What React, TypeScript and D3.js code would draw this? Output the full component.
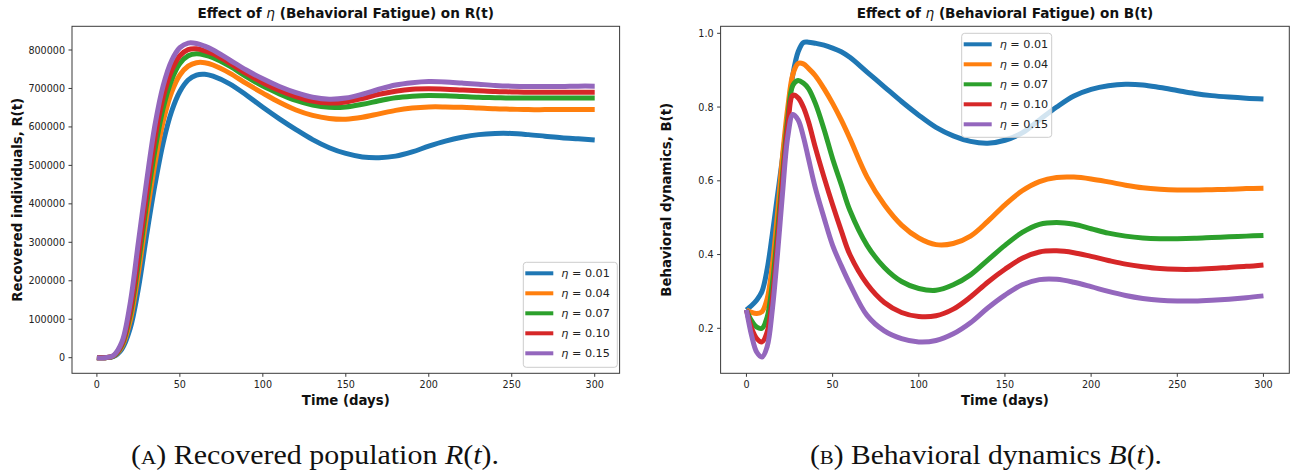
import React from 'react';
import * as d3 from 'd3';

// ---------- data ----------
const ETA_LABELS = ['0.01', '0.04', '0.07', '0.10', '0.15'];
const COLORS = ['#1f77b4', '#ff7f0e', '#2ca02c', '#d62728', '#9467bd'];
const X_TICKS = [0, 50, 100, 150, 200, 250, 300];
const R_TICKS = [0, 100000, 200000, 300000, 400000, 500000, 600000, 700000, 800000];
const B_TICKS = [0.2, 0.4, 0.6, 0.8, 1.0];

// Recovered individuals (thousands)
const tR = [0, 5, 10, 15, 20, 25, 30, 35, 40, 45, 50, 55, 60, 65, 70, 80, 90, 100, 110, 120, 130, 140, 150, 160, 170, 180, 190, 200, 210, 220, 230, 240, 250, 260, 270, 280, 290, 300];
const R_001 = [0, 0, 3, 22, 75, 180, 320, 450, 560, 640, 692, 722, 735, 737, 732, 712, 683, 651, 621, 593, 567, 546, 531, 522, 520, 524, 535, 550, 563, 573, 580, 583, 583, 580, 576, 572, 569, 566];
const R_004 = [0, 0, 4, 28, 95, 220, 370, 505, 615, 690, 735, 758, 767, 767, 761, 740, 713, 688, 664, 644, 630, 622, 620, 625, 634, 643, 649, 652, 652, 651, 649, 647, 646, 645, 645, 645, 645, 645];
const R_007 = [0, 0, 4, 32, 110, 245, 400, 540, 650, 722, 765, 785, 790, 787, 780, 758, 731, 706, 686, 669, 657, 651, 652, 659, 668, 676, 680, 682, 681, 679, 677, 676, 675, 675, 675, 675, 675, 675];
const R_010 = [0, 0, 5, 35, 120, 265, 425, 570, 678, 746, 785, 801, 803, 798, 790, 766, 739, 715, 695, 679, 667, 662, 665, 674, 685, 693, 698, 699, 698, 696, 694, 692, 691, 690, 690, 690, 690, 690];
const R_015 = [0, 0, 6, 40, 140, 300, 460, 605, 708, 772, 806, 818, 817, 810, 800, 774, 748, 725, 705, 689, 677, 672, 675, 685, 698, 709, 715, 718, 717, 714, 711, 708, 706, 705, 705, 705, 706, 706];
const R_UNIT = 1000;

// Behavioral dynamics
const tB = [0, 3, 6, 9, 12, 15, 18, 21, 24, 27, 30, 33, 36, 40, 45, 50, 55, 60, 70, 80, 90, 100, 110, 120, 130, 140, 150, 160, 170, 180, 190, 200, 210, 220, 230, 240, 250, 260, 270, 280, 290, 300];
const B_001 = [0.25, 0.262, 0.277, 0.30, 0.36, 0.455, 0.56, 0.665, 0.78, 0.89, 0.95, 0.975, 0.976, 0.973, 0.968, 0.96, 0.95, 0.935, 0.895, 0.855, 0.815, 0.778, 0.745, 0.722, 0.707, 0.702, 0.71, 0.73, 0.765, 0.80, 0.83, 0.848, 0.858, 0.862, 0.86, 0.853, 0.845, 0.837, 0.831, 0.827, 0.824, 0.822];
const B_004 = [0.25, 0.243, 0.24, 0.245, 0.28, 0.37, 0.51, 0.67, 0.80, 0.89, 0.918, 0.917, 0.905, 0.885, 0.85, 0.81, 0.765, 0.715, 0.61, 0.535, 0.48, 0.445, 0.427, 0.43, 0.45, 0.49, 0.535, 0.573, 0.598, 0.609, 0.61, 0.605, 0.597, 0.588, 0.581, 0.577, 0.575, 0.575, 0.576, 0.577, 0.579, 0.58];
const B_007 = [0.25, 0.22, 0.203, 0.20, 0.23, 0.32, 0.46, 0.62, 0.77, 0.86, 0.872, 0.865, 0.85, 0.81, 0.74, 0.66, 0.59, 0.52, 0.425, 0.365, 0.327, 0.308, 0.303, 0.318, 0.345, 0.385, 0.425, 0.46, 0.482, 0.487, 0.482, 0.47, 0.458, 0.45, 0.445, 0.443, 0.443, 0.444, 0.446, 0.448, 0.45, 0.452];
const B_010 = [0.25, 0.2, 0.172, 0.163, 0.19, 0.28, 0.43, 0.60, 0.75, 0.832, 0.825, 0.80, 0.76, 0.69, 0.61, 0.535, 0.465, 0.40, 0.32, 0.27, 0.243, 0.232, 0.234, 0.252, 0.285, 0.325, 0.36, 0.39, 0.407, 0.41, 0.405, 0.395, 0.384, 0.374, 0.367, 0.362, 0.36, 0.36, 0.362, 0.365, 0.368, 0.372];
const B_015 = [0.25, 0.18, 0.135, 0.122, 0.15, 0.25, 0.40, 0.57, 0.72, 0.78, 0.765, 0.72, 0.66, 0.58, 0.50, 0.425, 0.37, 0.32, 0.235, 0.193, 0.172, 0.163, 0.167, 0.185, 0.215, 0.255, 0.29, 0.318, 0.332, 0.333, 0.325, 0.313, 0.3, 0.289, 0.281, 0.276, 0.274, 0.274, 0.276, 0.279, 0.283, 0.288];

const FONT = 'DejaVu Sans';

type PanelProps = {
  left: number; right: number; top: number; bottom: number;
  xDomain: [number, number]; yDomain: [number, number];
  t: number[]; series: number[][]; yTicks: number[]; yFmt: (v: number) => string;
  titleSuffix: string; yLabel: string;
  legend: { x: number; y: number; w: number; h: number };
};

function Panel(p: PanelProps) {
  const x = d3.scaleLinear().domain(p.xDomain).range([p.left, p.right]);
  const y = d3.scaleLinear().domain(p.yDomain).range([p.bottom, p.top]);
  const line = d3.line<number>()
    .x((_, i) => x(p.t[i]))
    .y((d) => y(d))
    .curve(d3.curveCatmullRom.alpha(0.5));
  const cx = (p.left + p.right) / 2;
  const cy = (p.top + p.bottom) / 2;
  const axisColor = '#3a3a3a';
  const id = 'clip' + Math.round(p.left);
  return (
    <g>
      <defs>
        <clipPath id={id}>
          <rect x={p.left} y={p.top} width={p.right - p.left} height={p.bottom - p.top} />
        </clipPath>
      </defs>
      <g clipPath={`url(#${id})`}>
        {p.series.map((s, i) => (
          <path key={i} d={line(s) || ''} fill="none" stroke={COLORS[i]} strokeWidth={5} strokeLinejoin="round" strokeLinecap="butt" />
        ))}
      </g>
      <rect x={p.left} y={p.top} width={p.right - p.left} height={p.bottom - p.top} fill="none" stroke={axisColor} strokeWidth={1} />
      {X_TICKS.map((v) => (
        <g key={'x' + v}>
          <line x1={x(v)} x2={x(v)} y1={p.bottom} y2={p.bottom + 3.5} stroke={axisColor} strokeWidth={1} />
          <text x={x(v)} y={p.bottom + 14.2} textAnchor="middle" fontFamily={FONT} fontSize={9.6} fill="#222">{v}</text>
        </g>
      ))}
      {p.yTicks.map((v) => (
        <g key={'y' + v}>
          <line x1={p.left - 3.5} x2={p.left} y1={y(v)} y2={y(v)} stroke={axisColor} strokeWidth={1} />
          <text x={p.left - 7} y={y(v) + 3.5} textAnchor="end" fontFamily={FONT} fontSize={9.6} fill="#222">{p.yFmt(v)}</text>
        </g>
      ))}
      <text x={cx} y={17.5} textAnchor="middle" fontFamily={FONT} fontSize={13.6} fontWeight="bold" fill="#111">
        Effect of <tspan fontStyle="italic" fontWeight="normal">η</tspan> (Behavioral Fatigue) on {p.titleSuffix}
      </text>
      <text x={cx} y={405} textAnchor="middle" fontFamily={FONT} fontSize={13.3} fontWeight="bold" fill="#111">Time (days)</text>
      <text transform={`translate(${p.left - 50},${cy}) rotate(-90)`} textAnchor="middle" fontFamily={FONT} fontSize={13.3} fontWeight="bold" fill="#111">{p.yLabel}</text>
      <g>
        <rect x={p.legend.x} y={p.legend.y} width={p.legend.w} height={p.legend.h} rx={3} fill="#fff" fillOpacity={0.8} stroke="#cccccc" strokeWidth={1} />
        {ETA_LABELS.map((lab, i) => {
          const yy = p.legend.y + 11 + i * 20;
          return (
            <g key={lab}>
              <line x1={p.legend.x + 2} x2={p.legend.x + 30} y1={yy} y2={yy} stroke={COLORS[i]} strokeWidth={4} />
              <text x={p.legend.x + 38} y={yy + 4} fontFamily={FONT} fontSize={11.2} fill="#222">
                <tspan fontStyle="italic">η</tspan> = {lab}
              </text>
            </g>
          );
        })}
      </g>
    </g>
  );
}

export default function App() {
  const rSeries = [R_001, R_004, R_007, R_010, R_015].map((s) => s.map((v) => v * R_UNIT));
  const bSeries = [B_001, B_004, B_007, B_010, B_015];
  return (
    <svg width={1290} height={472} style={{ position: 'absolute', left: 0, top: 0, background: '#fff' }}>
      <rect x={0} y={0} width={1290} height={472} fill="#fff" />
      <Panel
        left={72} right={619.6} top={26.3} bottom={373.3}
        xDomain={[-15, 315]} yDomain={[-40560, 861620]}
        t={tR} series={rSeries} yTicks={R_TICKS} yFmt={(v) => String(v)}
        titleSuffix="R(t)" yLabel="Recovered individuals, R(t)"
        legend={{ x: 523.3, y: 262.3, w: 94, h: 105 }}
      />
      <Panel
        left={720.6} right={1289.3} top={26.3} bottom={373.3}
        xDomain={[-15, 315]} yDomain={[0.078, 1.019]}
        t={tB} series={bSeries} yTicks={B_TICKS} yFmt={(v) => v.toFixed(1)}
        titleSuffix="B(t)" yLabel="Behavioral dynamics, B(t)"
        legend={{ x: 961.7, y: 33.3, w: 90, h: 104 }}
      />
      <text x={131} y={464} textLength={368} lengthAdjust="spacingAndGlyphs" fontFamily="Liberation Serif" fontSize={27} fill="#111">
        (<tspan fontSize={19}>A</tspan>) Recovered population <tspan fontStyle="italic">R</tspan>(<tspan fontStyle="italic">t</tspan>).
      </text>
      <text x={810} y={464} textLength={352} lengthAdjust="spacingAndGlyphs" fontFamily="Liberation Serif" fontSize={27} fill="#111">
        (<tspan fontSize={19}>B</tspan>) Behavioral dynamics <tspan fontStyle="italic">B</tspan>(<tspan fontStyle="italic">t</tspan>).
      </text>
    </svg>
  );
}
